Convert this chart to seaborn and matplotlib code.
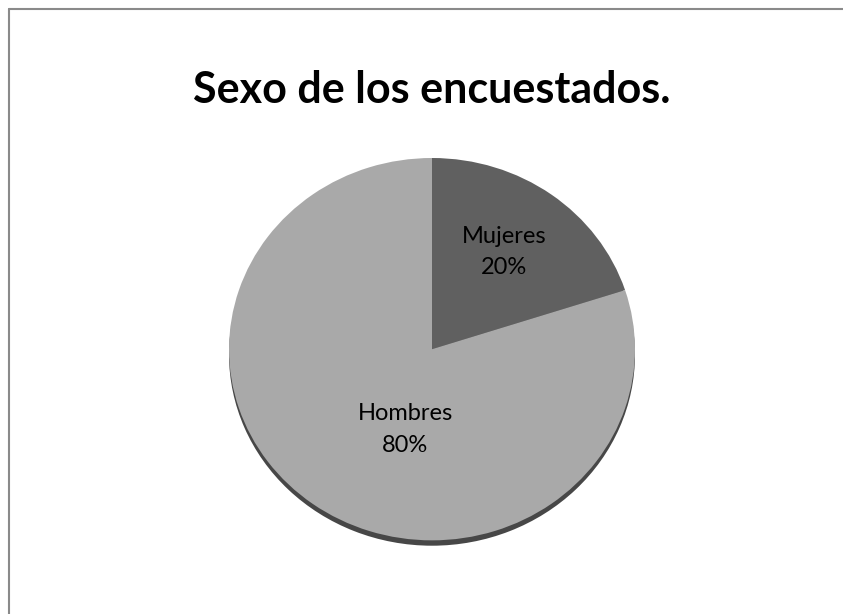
import matplotlib
matplotlib.use("Agg")
import matplotlib.pyplot as plt
import seaborn as sns
from matplotlib.lines import Line2D

# data
categories = ["Mujeres", "Hombres"]
porcentajes = [20, 80]
slice_colors = ["#606060", "#a9a9a9"]

sns.set_style("white")
plt.rcParams['font.family'] = ['Lato', 'DejaVu Sans']

fig = plt.figure(figsize=(8.43, 6.14), dpi=100)
fig.patch.set_edgecolor("none")
fig.patch.set_facecolor("white")

# gray frame only on top and left (the original export is cropped)
fx, fy = 8.5 / 843, 1 - 8.5 / 614
fig.lines.append(Line2D([fx, 1], [fy, fy], transform=fig.transFigure,
                        color="#8a8a8a", linewidth=1.5))
fig.lines.append(Line2D([fx, fx], [0, fy], transform=fig.transFigure,
                        color="#8a8a8a", linewidth=1.5))

fig.text(432 / 843, 1 - 90 / 614, "Sexo de los encuestados.",
         ha="center", va="center", fontsize=31, fontweight="bold", color="black")

# pie area (ellipse because axes is not square)
ax = fig.add_axes([229 / 843, (614 - 548) / 614, 406 / 843, 390 / 614])

# shadow underneath
ax.pie([1], colors=["#474747"], radius=1, center=(0, -0.028),
       wedgeprops=dict(linewidth=0), frame=True)

wedges, texts = ax.pie(porcentajes, colors=slice_colors, startangle=90,
                       counterclock=False, radius=1,
                       wedgeprops=dict(linewidth=0), frame=True)
ax.set_xlim(-1, 1)
ax.set_ylim(-1.04, 1)
ax.set_aspect("auto")
ax.axis("off")

label_pos = [(0.355, 0.51), (-0.133, -0.42)]
for cat, pct, (x, y) in zip(categories, porcentajes, label_pos):
    ax.text(x, y, f"{cat}\n{pct}%", ha="center", va="center",
            fontsize=17, color="black", linespacing=1.6)

fig.savefig("out.png", dpi=100)
